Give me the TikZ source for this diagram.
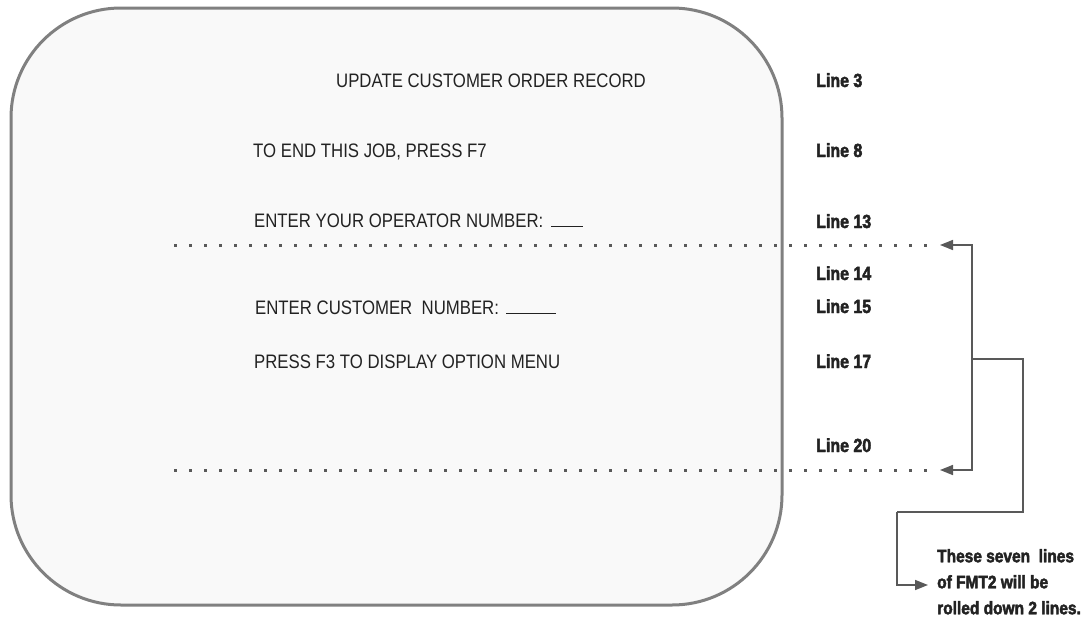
\documentclass[tikz,border=0pt]{standalone}
\usepackage{fontspec}
\usetikzlibrary{arrows.meta}
\newfontfamily\scrfont[FakeStretch=0.86]{Liberation Sans}
\newfontfamily\labfont[FakeStretch=0.84,FakeBold=2.5]{Liberation Sans Bold}
\newfontfamily\notefont[FakeStretch=0.86,FakeBold=2.5]{Liberation Sans Bold}
\definecolor{boxfill}{HTML}{F9F9F9}
\definecolor{boxline}{HTML}{808080}
\definecolor{conncol}{HTML}{595959}
\definecolor{txtcol}{HTML}{222222}
\tikzset{
  scrtext/.style={inner sep=0pt, anchor=base west, text=txtcol, font={\scrfont\fontsize{19.5}{23}\selectfont}},
  linelab/.style={inner sep=0pt, anchor=base west, text=txtcol, font={\labfont\fontsize{19}{23}\selectfont}},
  notetext/.style={inner sep=0pt, anchor=north west, align=left, text=txtcol, font={\notefont\fontsize{18}{26}\selectfont}},
  dotline/.style={draw=conncol, line width=3pt, dash pattern=on 3pt off 12pt},
  conn/.style={draw=conncol, line width=1.6pt},
  arr/.style={conn, -{Triangle[length=13pt,width=10pt]}},
}
\begin{document}
\begin{tikzpicture}[x=1pt,y=-1pt]
\useasboundingbox (0,0) rectangle (1091,621);
% screen box
\draw[draw=boxline, fill=boxfill, line width=3pt, rounded corners=110pt] (11,8) rectangle (782,605);
% screen texts
\node[scrtext, anchor=base] (title) at (491,87) {UPDATE CUSTOMER ORDER RECORD};
\node[scrtext] (endjob) at (253,157) {TO END THIS JOB, PRESS F7};
\node[scrtext] (opnum) at (254,227) {ENTER YOUR OPERATOR NUMBER:\hspace{8pt}\rule{32pt}{1.3pt}};
\node[scrtext] (custnum) at (255,314) {ENTER CUSTOMER\ \ NUMBER:\hspace{7pt}\rule{50pt}{1.3pt}};
\node[scrtext] (menu) at (254,368) {PRESS F3 TO DISPLAY OPTION MENU};
% line labels
\node[linelab] (l3) at (816,87) {Line 3};
\node[linelab] (l8) at (816,157) {Line 8};
\node[linelab] (l13) at (816,228) {Line 13};
\node[linelab] (l14) at (816,280) {Line 14};
\node[linelab] (l15) at (816,313) {Line 15};
\node[linelab] (l17) at (816,368) {Line 17};
\node[linelab] (l20) at (816,452) {Line 20};
% dotted boundaries
\coordinate (dTs) at (174,245);
\coordinate (dTe) at (930,245);
\coordinate (dBs) at (174,470);
\coordinate (dBe) at (930,470);
\draw[dotline] (dTs) -- (dTe);
\draw[dotline] (dBs) -- (dBe);
% bracket
\coordinate (tipT) at (940,245);
\coordinate (tipB) at (940,470);
\coordinate (bk) at (972,359);
\coordinate (r1) at (1023,359);
\coordinate (r2) at (1023,512);
\coordinate (r3) at (897,512);
\coordinate (r4) at (897,585);
\coordinate (tipN) at (928,585);
\draw[arr] (bk) |- (tipT);
\draw[arr] (bk) |- (tipB);
\draw[conn] (bk) -- (r1) -- (r2) -- (r3);
\draw[arr] (r3) -- (r4) -- (tipN);
% note
\node[notetext] (note) at (937,549) {These seven\ \ lines\\of FMT2 will be\\rolled down 2 lines.};
\end{tikzpicture}
\end{document}
